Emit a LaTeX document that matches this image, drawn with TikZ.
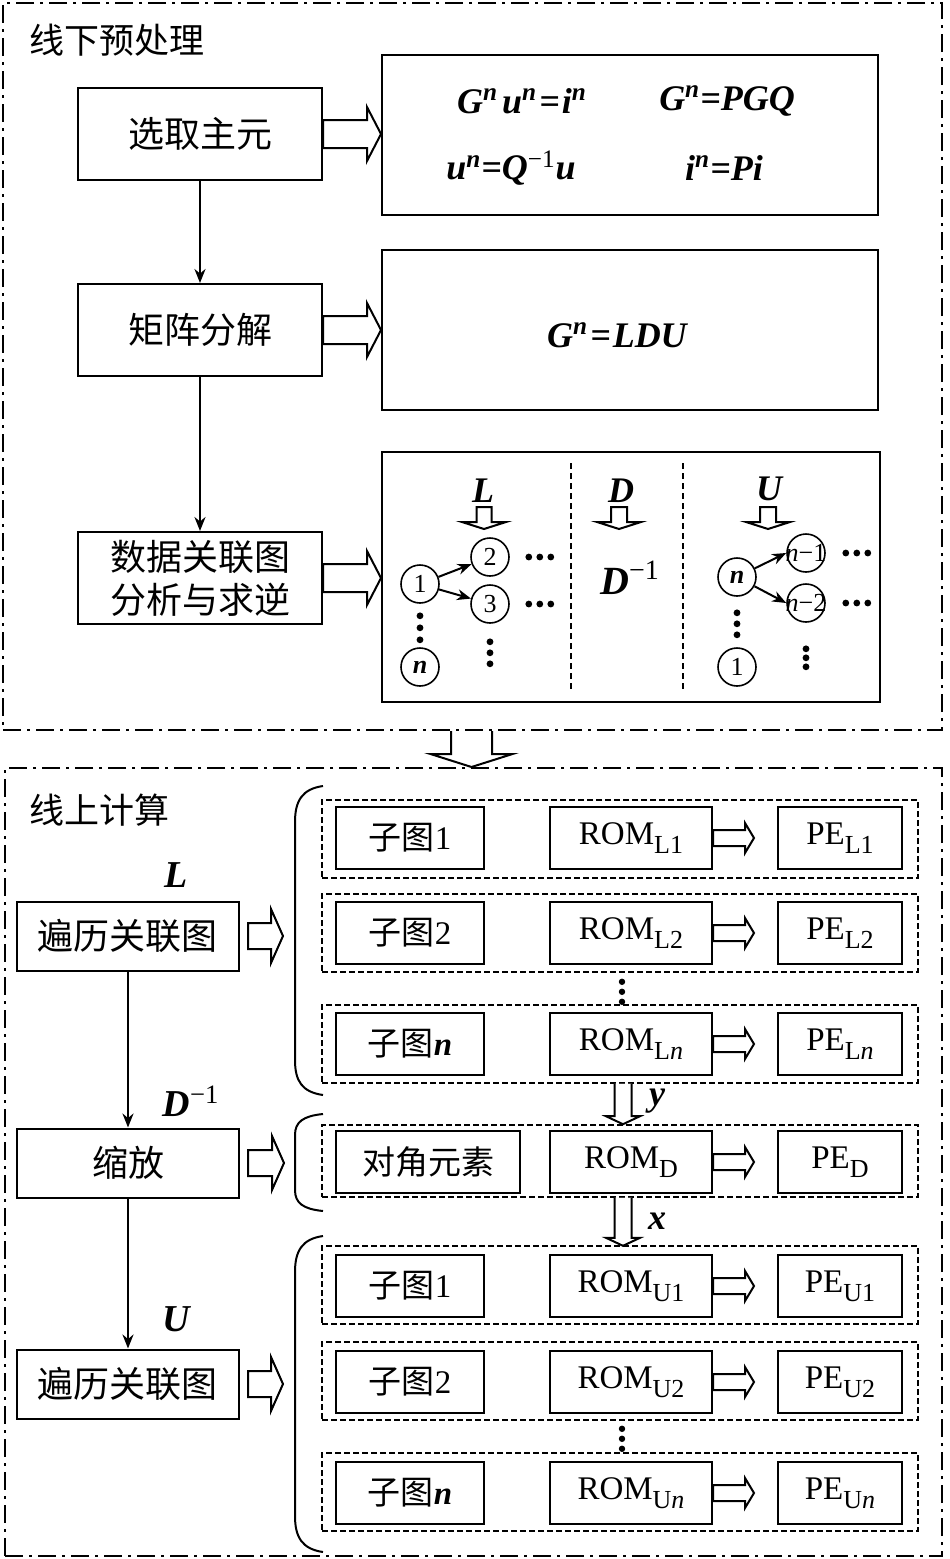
\documentclass[tikz,border=0pt]{standalone}
\usepackage{fontspec}
\setmainfont{Liberation Serif}
\newfontfamily\cjk{Noto Sans CJK SC}
\usepackage{tikz}
\usetikzlibrary{
  arrows.meta,
  calc,
  positioning
}
% hollow block arrows: from, to, shaft half, head half, head length
\newcommand{\fatright}[5]{%
  \draw[fat] let \p1=#1, \p2=#2 in
    (\x1,\y1+#3) -- (\x2-#5,\y1+#3) -- (\x2-#5,\y1+#4) -- (\x2,\y1)
    -- (\x2-#5,\y1-#4) -- (\x2-#5,\y1-#3) -- (\x1,\y1-#3) -- cycle;}
\newcommand{\fatdown}[5]{%
  \draw[fat] let \p1=#1, \p2=#2 in
    (\x1-#3,\y1) -- (\x1-#3,\y2+#5) -- (\x1-#4,\y2+#5) -- (\x1,\y2)
    -- (\x1+#4,\y2+#5) -- (\x1+#3,\y2+#5) -- (\x1+#3,\y1) -- cycle;}
\newcommand{\fatdownopen}[5]{%
  \fill[white] let \p1=#1, \p2=#2 in
    (\x1-#3,\y1) -- (\x1-#3,\y2+#5) -- (\x1-#4,\y2+#5) -- (\x1,\y2)
    -- (\x1+#4,\y2+#5) -- (\x1+#3,\y2+#5) -- (\x1+#3,\y1) -- cycle;
  \draw[fat] let \p1=#1, \p2=#2 in
    (\x1-#3,\y1) -- (\x1-#3,\y2+#5) -- (\x1-#4,\y2+#5) -- (\x1,\y2)
    -- (\x1+#4,\y2+#5) -- (\x1+#3,\y2+#5) -- (\x1+#3,\y1);}
\newcommand{\idx}[1]{\raisebox{-4.5pt}{\fontsize{13}{13}\selectfont #1}}
\newcommand{\inv}{\textsuperscript{\mdseries\upshape −1}}

\begin{document}
\begin{tikzpicture}[
  x=0.5pt,y=-0.5pt,
  every node/.style={font=\fontsize{16.5}{19}\selectfont},
  panel/.style={draw,line width=1pt,
    dash pattern=on 9pt off 3pt on 1.5pt off 3pt},
  box/.style={draw,line width=1pt,inner sep=0pt,align=center},
  lbox/.style={box,minimum width=122pt,minimum height=46pt,
    font=\fontsize{18}{21.5}\selectfont},
  sbox/.style={box,minimum width=111pt,minimum height=34.5pt,
    font=\fontsize{18}{21.5}\selectfont},
  fbox/.style={box,minimum width=248pt,minimum height=80pt},
  cell/.style={box,minimum height=31pt},
  row/.style={draw,line width=0.8pt,dash pattern=on 3pt off 1.5pt,
    minimum width=298pt,minimum height=39pt,inner sep=0pt},
  sep/.style={line width=0.8pt,dash pattern=on 3pt off 2pt},
  fat/.style={draw,line width=1pt,fill=white,line join=miter},
  arrow/.style={-{Stealth[length=7pt,width=5.5pt]},line width=1pt},
  vtx/.style={circle,draw,line width=0.8pt,minimum size=19pt,inner sep=0pt,
    font=\fontsize{13}{13}\selectfont},
  eq/.style={font=\fontsize{18}{21}\selectfont\bfseries\itshape},
  title/.style={anchor=west,font=\fontsize{17.5}{20}\selectfont\cjk},
  brace/.style={line width=1pt}
]
\useasboundingbox (0,0) rectangle (949,1559);

% offline part
\node[panel,minimum width=469.5pt,minimum height=363.5pt,inner sep=0pt]
  (offline) at (472.5,366.5) {};
\node[title] (t-off) at (22,40) {线下预处理};

\node[lbox] (pick) at (200,134) {{\cjk 选取主元}};
\node[lbox] (fact) at (200,330) {{\cjk 矩阵分解}};
\node[lbox] (graph) at (200,578) {{\cjk 数据关联图}\\{\cjk 分析与求逆}};

\node[fbox] (f1) at (630,135) {};
\node[fbox] (f2) at (630,330) {};
\node[box,minimum width=249pt,minimum height=125pt] (f3) at (631,577) {};

\node[eq] (eq1) at (522,101)
  {G\textsuperscript{n}\kern2pt u\textsuperscript{n}\kern1pt=\kern1pt i\textsuperscript{n}};
\node[eq] (eq2) at (727,101) {G\textsuperscript{n}=PGQ};
\node[eq] (eq3) at (511,168) {u\textsuperscript{n}=Q\inv u};
\node[eq] (eq4) at (724,168) {i\textsuperscript{n}=Pi};
\node[eq] (eq5) at (617,335) {G\textsuperscript{n}\kern1pt=\kern1pt LDU};

\draw[arrow] (pick) -- (fact);
\draw[arrow] (fact) -- (graph);
\fatright{(pick.east)}{(f1.west)}{7pt}{13.5pt}{7pt}
\fatright{(fact.east)}{(f2.west)}{7pt}{13.5pt}{7pt}
\fatright{(graph.east)}{(f3.west)}{7pt}{13.5pt}{7pt}

% data graph inside f3
\draw[sep] (571,463) -- (571,690);
\draw[sep] (683,463) -- (683,690);
\node[eq] (lab-l) at (483,491) {L};
\node[eq] (lab-d) at (621,491) {D};
\node[eq] (lab-u) at (769,489) {U};
\fatdown{($(lab-l)+(1,16)$)}{($(lab-l)+(1,38)$)}{3.75pt}{11pt}{3.5pt}
\fatdown{($(lab-d)+(-2,16)$)}{($(lab-d)+(-2,38)$)}{4pt}{11pt}{3.5pt}
\fatdown{($(lab-u)+(-1,18)$)}{($(lab-u)+(-1,40)$)}{4pt}{11pt}{3.5pt}
\node[eq,font=\fontsize{20}{22}\selectfont\bfseries\itshape] (dinv) at (630,578) {D\inv};

\node[vtx] (v1) at (420,584) {1};
\node[vtx] (v2) at (490,557) {2};
\node[vtx] (v3) at (490,604) {3};
\node[vtx] (vn) at (420,667) {\textbf{\textit{n}}};
\draw[arrow] (v1) -- (v2);
\draw[arrow] (v1) -- (v3);
\foreach \k in {0,1,2} {
  \fill ($(v1.south)+(0,12+12*\k)$) circle (1.7pt);
  \fill ($(v3.south)+(0,18+11*\k)$) circle (1.7pt);
  \fill ($(v2.east)+(19+11*\k,0)$) circle (1.7pt);
  \fill ($(v3.east)+(19+11*\k,0)$) circle (1.7pt);
}

\node[vtx] (w1) at (737,577) {\textbf{\textit{n}}};
\node[vtx] (w2) at (806,553) {\makebox[0pt]{\textit{n}−1}};
\node[vtx] (w3) at (806,603) {\makebox[0pt]{\textit{n}−2}};
\node[vtx] (wn) at (737,667) {1};
\draw[arrow] (w1) -- (w2.west);
\draw[arrow] (w1) -- (w3.west);
\foreach \k in {0,1,2} {
  \fill ($(w1.south)+(0,16+11*\k)$) circle (1.7pt);
  \fill ($(w3.south)+(0,26+9*\k)$) circle (1.7pt);
  \fill ($(w2.east)+(20+11*\k,0)$) circle (1.7pt);
  \fill ($(w3.east)+(20+11*\k,0)$) circle (1.7pt);
}

% online part
\node[panel,minimum width=468.5pt,minimum height=394pt,inner sep=0pt]
  (online) at (473.5,1162) {};
\node[title] (t-on) at (22,810) {线上计算};
\fatdownopen{($(offline.south)+(-1,0)$)}{($(online.north)+(-2,0)$)}{10.25pt}{20.5pt}{6.5pt}

\node[sbox] (trav-l) at (128,936) {{\cjk 遍历关联图}};
\node[sbox] (scale) at (128,1163) {{\cjk 缩放}};
\node[sbox] (trav-u) at (128,1384) {{\cjk 遍历关联图}};
\node[eq,font=\fontsize{19}{21}\selectfont\bfseries\itshape] (big-l) at (176,875) {L};
\node[eq,font=\fontsize{19}{21}\selectfont\bfseries\itshape] (big-d) at (191,1101) {D\inv};
\node[eq,font=\fontsize{19}{21}\selectfont\bfseries\itshape] (big-u) at (176,1319) {U};
\draw[arrow] (trav-l) -- (scale);
\draw[arrow] (scale) -- (trav-u);

% braces
\draw[brace] (323,786) .. controls (302,789) and (295,801) .. (295,822)
  -- (295,1060) .. controls (295,1081) and (302,1092) .. (323,1095);
\draw[brace] (323,1114) .. controls (303,1116) and (295,1122) .. (295,1135)
  -- (295,1190) .. controls (295,1203) and (303,1209) .. (323,1211);
\draw[brace] (323,1236) .. controls (302,1239) and (295,1251) .. (295,1272)
  -- (295,1516) .. controls (295,1537) and (302,1549) .. (323,1552);
\coordinate (tip-l) at (283,936);
\coordinate (tip-d) at (284,1163);
\coordinate (tip-u) at (283,1384);
\fatright{($(trav-l.east)+(8,0)$)}{(tip-l)}{6.5pt}{13.5pt}{6pt}
\fatright{($(scale.east)+(8,0)$)}{(tip-d)}{6.5pt}{13.5pt}{6pt}
\fatright{($(trav-u.east)+(8,0)$)}{(tip-u)}{6.5pt}{13.5pt}{6pt}

% L rows
\node[row] (rl1) at (620,839) {};
\node[cell,minimum width=74pt] (gl1) at (410,838) {{\cjk 子图}1};
\node[cell,minimum width=81pt] (rom-l1) at (631,838) {ROM\idx{L1}};
\node[cell,minimum width=62pt] (pe-l1) at (840,838) {PE\idx{L1}};
\node[row] (rl2) at (620,933) {};
\node[cell,minimum width=74pt] (gl2) at (410,933) {{\cjk 子图}2};
\node[cell,minimum width=81pt] (rom-l2) at (631,933) {ROM\idx{L2}};
\node[cell,minimum width=62pt] (pe-l2) at (840,933) {PE\idx{L2}};
\node[row] (rln) at (620,1044) {};
\node[cell,minimum width=74pt] (gln) at (410,1044) {{\cjk 子图}\textbf{\textit{n}}};
\node[cell,minimum width=81pt] (rom-ln) at (631,1044) {ROM\idx{L\textit{n}}};
\node[cell,minimum width=62pt] (pe-ln) at (840,1044) {PE\idx{L\textit{n}}};
\fatright{(rom-l1.east)}{($(pe-l1.west)+(-23,0)$)}{4pt}{7.5pt}{4.5pt}
\fatright{(rom-l2.east)}{($(pe-l2.west)+(-23,0)$)}{4pt}{7.5pt}{4.5pt}
\fatright{(rom-ln.east)}{($(pe-ln.west)+(-23,0)$)}{4pt}{7.5pt}{4.5pt}
\foreach \k in {0,1,2}
  \fill ($(rl2.south)+(2,9+10*\k)$) circle (1.6pt);

% D row
\node[row,minimum height=36pt] (rd) at (620,1161) {};
\node[cell,minimum width=92pt] (diag) at (428,1162) {{\cjk 对角元素}};
\node[cell,minimum width=81pt] (rom-d) at (631,1162) {ROM\idx{D}};
\node[cell,minimum width=62pt] (pe-d) at (840,1162) {PE\idx{D}};
\fatright{(rom-d.east)}{($(pe-d.west)+(-23,0)$)}{4pt}{7.5pt}{4.5pt}
\fatdownopen{($(rln.south)+(3,0)$)}{($(rd.north)+(3,0)$)}{4.25pt}{8.5pt}{4pt}
\fatdownopen{($(rd.south)+(3,0)$)}{($(rd.south)+(3,48)$)}{4.25pt}{8.5pt}{4pt}
\node[eq] (lab-y) at (657,1101) {y};
\node[eq] (lab-x) at (657,1221) {x};

% U rows
\node[row] (ru1) at (620,1285) {};
\node[cell,minimum width=74pt] (gu1) at (410,1286) {{\cjk 子图}1};
\node[cell,minimum width=81pt] (rom-u1) at (631,1286) {ROM\idx{U1}};
\node[cell,minimum width=62pt] (pe-u1) at (840,1286) {PE\idx{U1}};
\node[row] (ru2) at (620,1381) {};
\node[cell,minimum width=74pt] (gu2) at (410,1382) {{\cjk 子图}2};
\node[cell,minimum width=81pt] (rom-u2) at (631,1382) {ROM\idx{U2}};
\node[cell,minimum width=62pt] (pe-u2) at (840,1382) {PE\idx{U2}};
\node[row] (run) at (620,1492) {};
\node[cell,minimum width=74pt] (gun) at (410,1493) {{\cjk 子图}\textbf{\textit{n}}};
\node[cell,minimum width=81pt] (rom-un) at (631,1493) {ROM\idx{U\textit{n}}};
\node[cell,minimum width=62pt] (pe-un) at (840,1493) {PE\idx{U\textit{n}}};
\fatright{(rom-u1.east)}{($(pe-u1.west)+(-23,0)$)}{4pt}{7.5pt}{4.5pt}
\fatright{(rom-u2.east)}{($(pe-u2.west)+(-23,0)$)}{4pt}{7.5pt}{4.5pt}
\fatright{(rom-un.east)}{($(pe-un.west)+(-23,0)$)}{4pt}{7.5pt}{4.5pt}
\foreach \k in {0,1,2}
  \fill ($(ru2.south)+(2,8+10*\k)$) circle (1.6pt);
\end{tikzpicture}
\end{document}
